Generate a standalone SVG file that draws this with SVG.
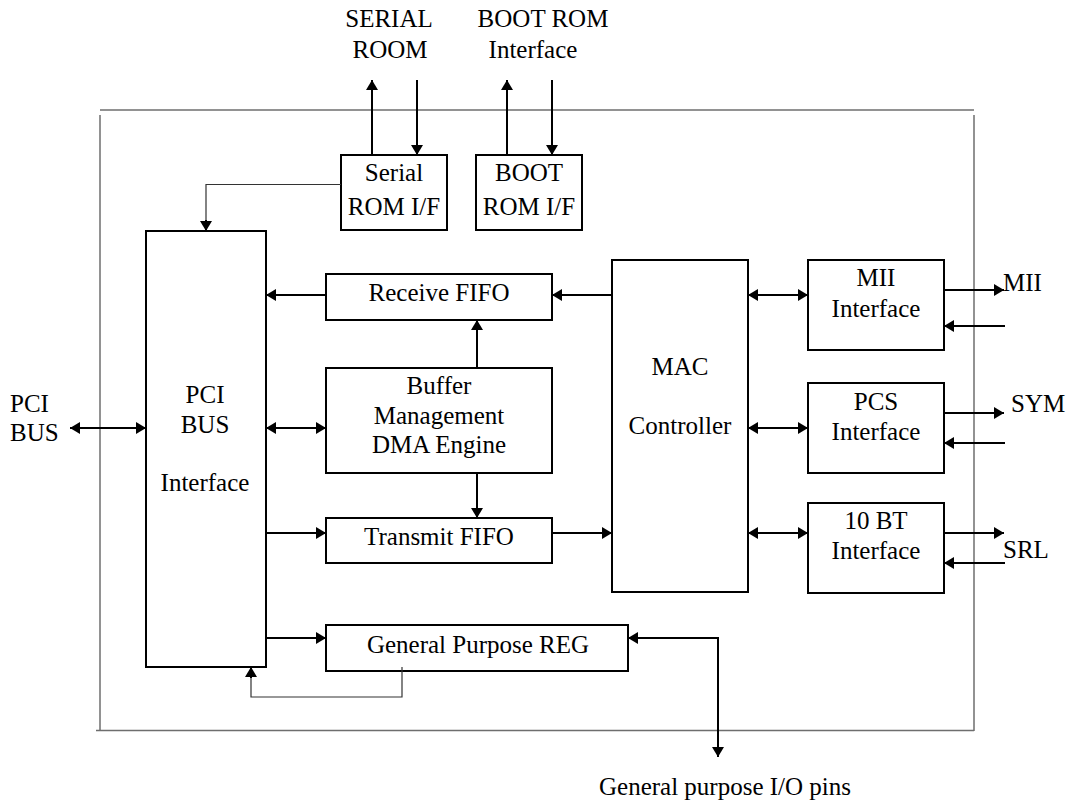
<svg xmlns="http://www.w3.org/2000/svg" width="1071" height="804" viewBox="0 0 1071 804">
<style>
text{font-family:"Liberation Serif","Times New Roman",serif;font-size:25px;fill:#000;text-anchor:middle}
.box{fill:#fff;stroke:#000;stroke-width:2}
.frame{fill:none;stroke:#6e6e6e;stroke-width:1.5}
.c{fill:none;stroke:#000;stroke-width:2}
.thin{fill:none;stroke:#333;stroke-width:1.2}
.l{text-anchor:start}
</style>
<defs>
<marker id="ah" markerUnits="userSpaceOnUse" markerWidth="10" markerHeight="12" refX="10" refY="6" orient="auto-start-reverse" viewBox="0 0 10 12">
<path d="M0,0 L10,6 L0,12 z" fill="#000"/>
</marker>
</defs>
<g id="frame">
<line class="frame" x1="100" y1="110" x2="974" y2="110"/>
<line class="frame" x1="100" y1="115" x2="100" y2="731"/>
<line class="frame" x1="974" y1="115" x2="974" y2="731"/>
<line class="frame" x1="96" y1="730.5" x2="974" y2="730.5"/>
</g>
<g id="labels">
<text x="389" y="27">SERIAL</text>
<text x="390" y="58">ROOM</text>
<text x="543" y="27">BOOT ROM</text>
<text x="533" y="58">Interface</text>
<text class="l" x="10" y="412">PCI</text>
<text class="l" x="10" y="441">BUS</text>
<text class="l" x="1003" y="291">MII</text>
<text class="l" x="1011" y="412">SYM</text>
<text class="l" x="1003" y="558">SRL</text>
<text x="725" y="795">General purpose I/O pins</text>
</g>
<g id="serial-rom-if">
<rect class="box" x="341" y="155" width="106" height="75"/>
<text x="394" y="181">Serial</text>
<text x="394" y="215">ROM I/F</text>
</g>
<g id="boot-rom-if">
<rect class="box" x="476" y="155" width="106" height="75"/>
<text x="529" y="181">BOOT</text>
<text x="529" y="215">ROM I/F</text>
</g>
<g id="pci-bus-interface">
<rect class="box" x="146" y="231" width="120" height="436"/>
<text x="205" y="403">PCI</text>
<text x="205" y="433">BUS</text>
<text x="205" y="491">Interface</text>
</g>
<g id="receive-fifo">
<rect class="box" x="326" y="274" width="226" height="46"/>
<text x="439" y="301">Receive FIFO</text>
</g>
<g id="buffer-dma">
<rect class="box" x="326" y="368" width="226" height="105"/>
<text x="439" y="394">Buffer</text>
<text x="439" y="424">Management</text>
<text x="439" y="453">DMA Engine</text>
</g>
<g id="transmit-fifo">
<rect class="box" x="326" y="518" width="226" height="45"/>
<text x="439" y="545">Transmit FIFO</text>
</g>
<g id="gp-reg">
<rect class="box" x="326" y="625" width="302" height="46"/>
<text x="478" y="653">General Purpose REG</text>
</g>
<g id="mac-controller">
<rect class="box" x="612" y="260" width="136" height="332"/>
<text x="680" y="375">MAC</text>
<text x="680" y="434">Controller</text>
</g>
<g id="mii-interface">
<rect class="box" x="808" y="260" width="136" height="90"/>
<text x="876" y="286">MII</text>
<text x="876" y="317">Interface</text>
</g>
<g id="pcs-interface">
<rect class="box" x="808" y="383" width="136" height="90"/>
<text x="876" y="410">PCS</text>
<text x="876" y="440">Interface</text>
</g>
<g id="tenbt-interface">
<rect class="box" x="808" y="503" width="136" height="90"/>
<text x="876" y="529">10 BT</text>
<text x="876" y="559">Interface</text>
</g>
<g id="connectors">
<line class="c" x1="372" y1="155" x2="372" y2="80" marker-end="url(#ah)"/>
<line class="c" x1="417" y1="80" x2="417" y2="155" marker-end="url(#ah)"/>
<line class="c" x1="507" y1="155" x2="507" y2="80" marker-end="url(#ah)"/>
<line class="c" x1="552" y1="80" x2="552" y2="155" marker-end="url(#ah)"/>
<polyline class="thin" points="341,184.5 206,184.5 206,221"/>
<line class="c" x1="206" y1="220" x2="206" y2="231" marker-end="url(#ah)"/>
<line class="c" x1="70" y1="428" x2="146" y2="428" marker-start="url(#ah)" marker-end="url(#ah)"/>
<line class="c" x1="326" y1="295" x2="266" y2="295" marker-end="url(#ah)"/>
<line class="c" x1="612" y1="295" x2="552" y2="295" marker-end="url(#ah)"/>
<line class="c" x1="477" y1="368" x2="477" y2="320" marker-end="url(#ah)"/>
<line class="c" x1="266" y1="428" x2="326" y2="428" marker-start="url(#ah)" marker-end="url(#ah)"/>
<line class="c" x1="477" y1="473" x2="477" y2="518" marker-end="url(#ah)"/>
<line class="c" x1="266" y1="533" x2="326" y2="533" marker-end="url(#ah)"/>
<line class="c" x1="552" y1="533" x2="612" y2="533" marker-end="url(#ah)"/>
<line class="c" x1="748" y1="295" x2="808" y2="295" marker-start="url(#ah)" marker-end="url(#ah)"/>
<line class="c" x1="748" y1="428" x2="808" y2="428" marker-start="url(#ah)" marker-end="url(#ah)"/>
<line class="c" x1="748" y1="533" x2="808" y2="533" marker-start="url(#ah)" marker-end="url(#ah)"/>
<line class="c" x1="944" y1="290" x2="1004" y2="290" marker-end="url(#ah)"/>
<line class="c" x1="1005" y1="326" x2="944" y2="326" marker-end="url(#ah)"/>
<line class="c" x1="944" y1="413" x2="1004" y2="413" marker-end="url(#ah)"/>
<line class="c" x1="1005" y1="443" x2="944" y2="443" marker-end="url(#ah)"/>
<line class="c" x1="944" y1="533" x2="1004" y2="533" marker-end="url(#ah)"/>
<line class="c" x1="1005" y1="563" x2="944" y2="563" marker-end="url(#ah)"/>
<line class="c" x1="266" y1="638" x2="326" y2="638" marker-end="url(#ah)"/>
<polyline class="c" points="628,638 718,638 718,757" marker-start="url(#ah)" marker-end="url(#ah)"/>
<polyline class="thin" points="402,667 402,697 251,697 251,677"/>
<line class="c" x1="251" y1="678" x2="251" y2="667" marker-end="url(#ah)"/>
</g>
</svg>
